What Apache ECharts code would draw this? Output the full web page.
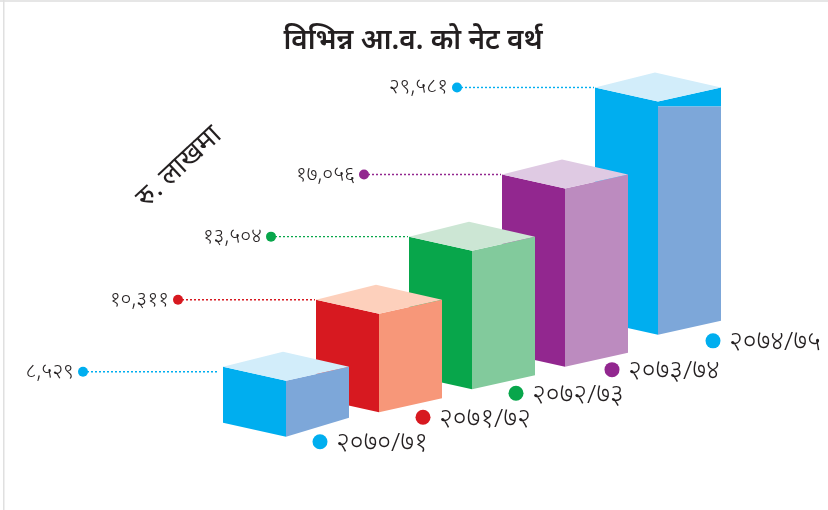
<!DOCTYPE html>
<html>
  <head>
    <meta charset="UTF-8">
    <title>विभिन्न आ.व. को नेट वर्थ</title>
    <script src="https://cdn.jsdelivr.net/npm/echarts@6/dist/echarts.min.js"></script>
    <style>
      html, body { margin: 0; padding: 0; background: #fff; }
      #main { width: 828px; height: 510px; }
    </style>
  </head>
  <body>
    <div id="main"></div>
    <script type="text/javascript">
      var titleText = 'विभिन्न आ.व. को नेट वर्थ';
      var unitText = 'रु. लाखमा';
      var years = ['२०७०/७१', '२०७१/७२', '२०७२/७३', '२०७३/७४', '२०७४/७५'];
      var netWorth = [8529, 10311, 13504, 17056, 29581];

      var frontColors = ['#00AEEF', '#D71920', '#08A64B', '#92278F', '#00AEEF'];
      var sideColors = ['#7DA7D9', '#F79779', '#82CA9C', '#BC8BBF', '#7DA7D9'];
      var topColors = ['#D2EDFA', '#FDD0BC', '#CCE6D4', '#DFCAE3', '#D2EDFA'];

      var FONT = '"Noto Sans", sans-serif';
      var halfWidth = 63;      // width of one face of a box
      var skew = 14;           // how much the faces lean
      var firstHeight = 56;    // height of the first box
      var floorRise = 0.365;   // the floor climbs with the top of the box
      var dotGap = 138;        // value dot, left of the box
      var yearDotX = [34, 44, 44, 47, 55];   // year dot, right of the front corner
      var yearDotY = [5, 5, 4, 3, 6];

      function toNepali(str) {
        return String(str).replace(/[0-9]/g, function (d) {
          return '०१२३४५६७८९'.charAt(+d);
        });
      }
      function formatValue(v) {
        return toNepali(String(v).replace(/\B(?=(\d{3})+$)/g, ','));
      }

      function poly(points, color) {
        return { type: 'polygon', shape: { points: points }, style: { fill: color }, silent: true };
      }

      function renderBar(params, api) {
        var i = api.value(0);
        var v = api.value(1);
        var p = api.coord([i, v]);
        var first = api.coord([0, netWorth[0]]);
        var fx = p[0];
        var ty = p[1];
        var by = first[1] + firstHeight - floorRise * (first[1] - ty);
        var lx = fx - halfWidth;
        var rx = fx + halfWidth;
        var ly = ty - skew;
        // the first box: leader sits a bit lower and the right edge is shorter
        var lift = i === 0 ? 5 : 0;
        var children = [];

        // dotted leader, dot and value on the left
        var dotX = lx - dotGap - (i === 0 ? 2 : 0);
        var leadY = ly + lift;
        children.push({
          type: 'line',
          shape: { x1: dotX, y1: leadY, x2: lx - 1 - lift, y2: leadY },
          style: { stroke: frontColors[i], lineWidth: 1.4, lineDash: [2, 2] },
          silent: true
        });
        children.push({
          type: 'circle',
          shape: { cx: dotX, cy: leadY, r: 5 },
          style: { fill: frontColors[i] },
          silent: true
        });
        children.push({
          type: 'text',
          style: {
            x: dotX - 9, y: leadY, text: formatValue(v), align: 'right', verticalAlign: 'middle',
            font: '300 21px ' + FONT, fill: '#231F20'
          },
          silent: true
        });

        // box faces
        children.push(poly([[lx, ly], [fx, ty], [fx, by], [lx, by - skew]], frontColors[i]));
        if (i === netWorth.length - 1) {
          // the tall box has its side cut flat below the top
          children.push(poly([[fx, ty], [rx, ly], [rx, ty + 5], [fx, ty + 5]], frontColors[i]));
          children.push(poly([[fx, ty + 5], [rx, ty + 5], [rx, by - skew], [fx, by]], sideColors[i]));
        } else {
          children.push(poly([[fx, ty], [rx, ly], [rx, by - skew - lift], [fx, by]], sideColors[i]));
        }
        children.push(poly([[lx, ly], [fx - 3, ly - 15], [rx, ly], [fx, ty]], topColors[i]));

        // year under the box
        var yx = fx + yearDotX[i];
        var yy = by + yearDotY[i];
        children.push({
          type: 'circle',
          shape: { cx: yx, cy: yy, r: 7.5 },
          style: { fill: frontColors[i] },
          silent: true
        });
        children.push({
          type: 'text',
          style: {
            x: yx + 16, y: yy + 2, text: api.value(2), align: 'left', verticalAlign: 'middle',
            font: '300 26.5px ' + FONT, fill: '#231F20'
          },
          silent: true
        });
        return { type: 'group', children: children };
      }

      // back boxes first so the front ones cover them
      var barData = [];
      for (var n = netWorth.length - 1; n >= 0; n--) {
        barData.push([n, netWorth[n], years[n]]);
      }

      var app = echarts.init(document.getElementById('main'));
      app.setOption({
        animation: false,
        backgroundColor: '#fff',
        title: {
          text: titleText,
          left: 408,
          top: 22,
          textAlign: 'center',
          textStyle: { fontFamily: FONT, fontSize: 28, fontWeight: 600, color: '#231F20' }
        },
        grid: { left: 239.5, width: 465, top: 85.7, height: 315 },
        xAxis: { type: 'category', data: years, show: false },
        yAxis: {
          type: 'value',
          show: false,
          min: 8000,
          max: 30000,
          // the picture is not drawn to a straight scale, the axis is cut to follow it
          breaks: [
            { start: 10500, end: 12017, gap: 0 },
            { start: 14000, end: 15903, gap: 0 },
            { start: 18000, end: 28211, gap: 0 }
          ],
          breakArea: { show: false }
        },
        graphic: [
          { type: 'rect', shape: { x: 0, y: 0, width: 828, height: 2 }, style: { fill: '#E6E6E6' }, silent: true },
          { type: 'rect', shape: { x: 3, y: 0, width: 1.5, height: 510 }, style: { fill: '#E0E0E0' }, silent: true },
          {
            type: 'text',
            x: 179,
            y: 167,
            rotation: Math.PI * 43 / 180,
            style: {
              text: unitText, align: 'center', verticalAlign: 'middle',
              font: '400 28px ' + FONT, fill: '#231F20'
            },
            silent: true
          }
        ],
        series: [{
          type: 'custom',
          renderItem: renderBar,
          data: barData,
          encode: { x: 0, y: 1 },
          clip: false
        }]
      });
    </script>
  </body>
</html>
